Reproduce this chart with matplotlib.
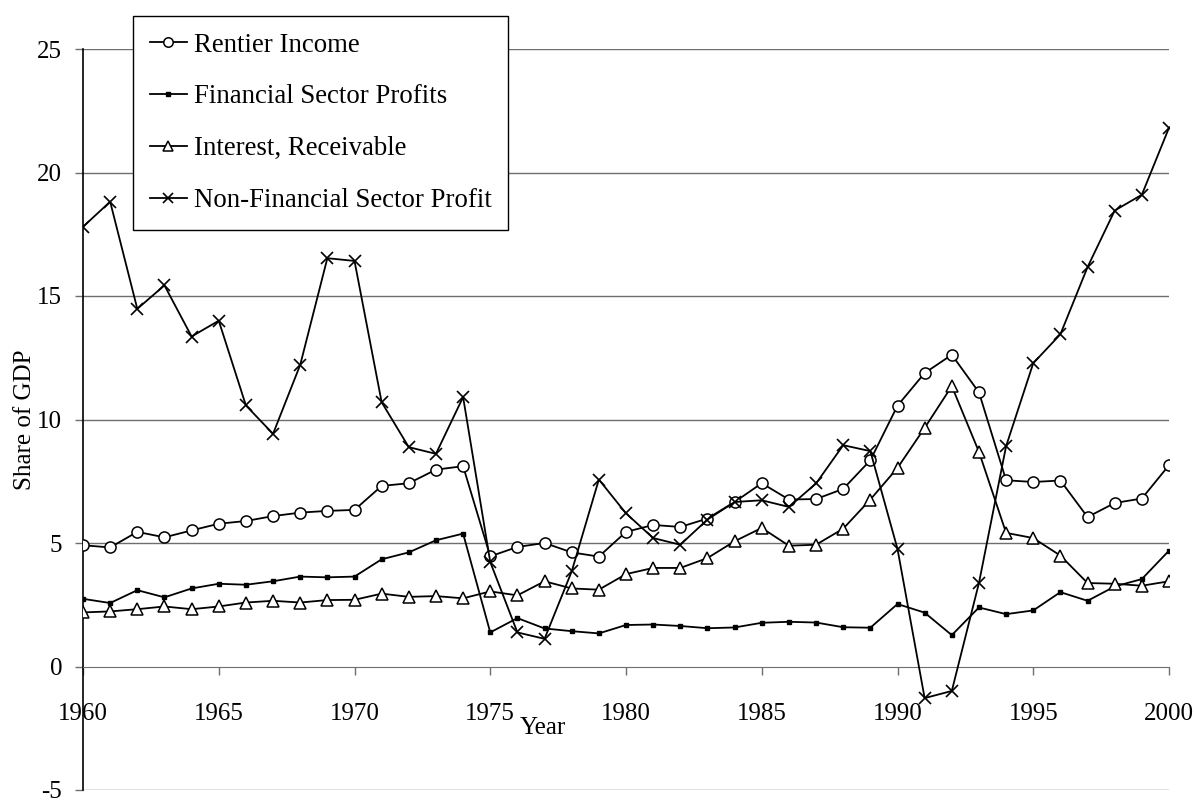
import matplotlib.pyplot as plt

plt.rcParams['font.family'] = ['Liberation Serif', 'DejaVu Serif']
plt.rcParams['axes.unicode_minus'] = False

years = list(range(1960, 2001))

rentier = [4.91, 4.82, 5.45, 5.23, 5.51, 5.78, 5.89, 6.09, 6.23, 6.30,
           6.34, 7.31, 7.42, 7.97, 8.11, 4.46, 4.84, 5.00, 4.62, 4.45,
           5.45, 5.73, 5.65, 5.99, 6.66, 7.42, 6.76, 6.78, 7.19, 8.35,
           10.56, 11.88, 12.62, 11.10, 7.54, 7.47, 7.53, 6.05, 6.62, 6.80,
           8.15]
fin_profits = [2.74, 2.57, 3.09, 2.80, 3.16, 3.35, 3.31, 3.45, 3.64, 3.61,
               3.64, 4.34, 4.62, 5.11, 5.38, 1.38, 1.96, 1.54, 1.43, 1.34,
               1.68, 1.70, 1.64, 1.55, 1.58, 1.77, 1.81, 1.78, 1.59, 1.57,
               2.53, 2.18, 1.27, 2.39, 2.12, 2.27, 3.01, 2.66, 3.24, 3.54,
               4.69]
interest = [2.19, 2.23, 2.32, 2.43, 2.32, 2.43, 2.59, 2.66, 2.59, 2.69,
            2.70, 2.95, 2.82, 2.85, 2.76, 3.04, 2.88, 3.45, 3.16, 3.11,
            3.74, 3.99, 3.99, 4.39, 5.07, 5.61, 4.89, 4.93, 5.58, 6.76,
            8.04, 9.66, 11.35, 8.69, 5.41, 5.20, 4.49, 3.38, 3.35, 3.27,
            3.45]
nonfin_profits = [17.80, 18.82, 14.48, 15.43, 13.36, 14.00, 10.57, 9.42, 12.21, 16.53,
                  16.42, 10.70, 8.88, 8.61, 10.91, 4.23, 1.38, 1.12, 3.85, 7.57,
                  6.20, 5.20, 4.93, 5.95, 6.66, 6.73, 6.46, 7.41, 8.96, 8.72,
                  4.76, -1.28, -0.99, 3.38, 8.92, 12.28, 13.45, 16.17, 18.46, 19.10,
                  21.81]

x_ticks = [1960, 1965, 1970, 1975, 1980, 1985, 1990, 1995, 2000]
y_ticks = [-5, 0, 5, 10, 15, 20, 25]

fig = plt.figure(figsize=(11.97, 8.02), dpi=100)
ax = fig.add_axes([83 / 1197, 1 - 790 / 802, (1169 - 83) / 1197, (790 - 49) / 802])

grid_color = '#6e6e6e'
for v in y_ticks:
    if v != 0:
        ax.axhline(v, color=grid_color, lw=1.0, zorder=1)

ax.plot(years, rentier, color='black', lw=1.3, marker='o', ms=8,
        mfc='white', mec='black', mew=1.1, label='Rentier Income', zorder=3)
ax.plot(years, fin_profits, color='black', lw=1.3, marker='s', ms=2.6,
        mfc='black', mec='black', label='Financial Sector Profits', zorder=3)
ax.plot(years, interest, color='black', lw=1.3, marker='^', ms=8,
        mfc='white', mec='black', mew=1.1, label='Interest, Receivable', zorder=3)
ax.plot(years, nonfin_profits, color='black', lw=1.3, marker='x', ms=9,
        mew=1.2, label='Non-Financial Sector Profit', zorder=3)

ax.set_xlim(1960, 2000)
ax.set_ylim(-5, 25)
ax.set_xticks(x_ticks)
ax.set_yticks(y_ticks)

ax.spines['top'].set_visible(False)
ax.spines['right'].set_visible(False)
ax.spines['bottom'].set_position(('data', 0))
ax.spines['bottom'].set_color(grid_color)
ax.spines['left'].set_color('black')
ax.spines['left'].set_linewidth(1.2)

ax.tick_params(axis='x', direction='out', length=6, width=1, color=grid_color,
               labelsize=18, pad=20)
ax.tick_params(axis='y', direction='out', length=6, width=1, color=grid_color,
               labelsize=18, pad=9)

ax.set_ylabel('Share of GDP', fontsize=18, va='center')
ax.yaxis.set_label_coords(-0.053, 0.5)
ax.set_xlabel('Year', fontsize=18, va='center')
ax.xaxis.set_label_coords((543 - 83) / 1086, (790 - 728) / 741)

leg = ax.legend(loc='upper left', bbox_to_anchor=(133 / 1197, 1 - 16 / 802),
                bbox_transform=fig.transFigure, fontsize=19.3, frameon=True,
                fancybox=False, shadow=False, framealpha=1, edgecolor='black',
                borderpad=0.62, labelspacing=1.0, handlelength=1.4,
                handletextpad=0.25, borderaxespad=0, markerscale=0.85)
leg.get_frame().set_linewidth(1.0)
leg.set_zorder(5)

fig.savefig('out.png', dpi=100)
